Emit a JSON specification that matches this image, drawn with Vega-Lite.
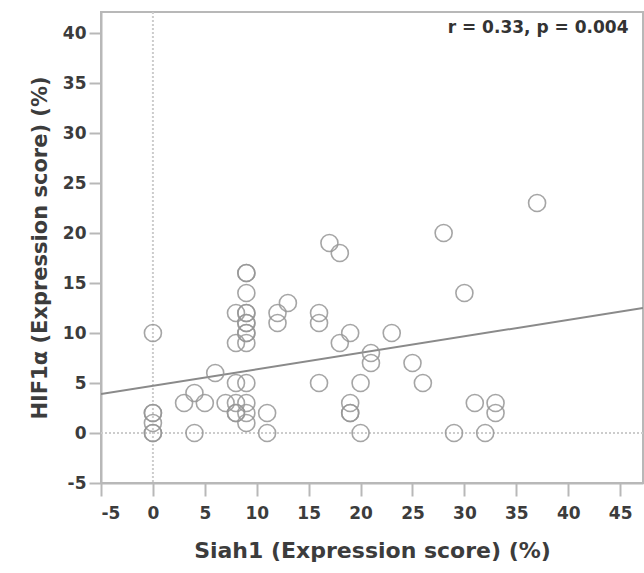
{
  "$schema": "https://vega.github.io/schema/vega-lite/v6.json",
  "autosize": "none",
  "padding": {"left": 101, "top": 12, "right": 1, "bottom": 90},
  "width": 542,
  "height": 471,
  "background": "white",
  "config": {
    "view": {"stroke": "#b8b8b8", "strokeWidth": 2},
    "font": "DejaVu Sans"
  },
  "datasets": {
    "points": [
      {"siah1": 0, "hif1a": 10}, {"siah1": 0, "hif1a": 2}, {"siah1": 0, "hif1a": 1}, {"siah1": 0, "hif1a": 0}, {"siah1": 0, "hif1a": 0}, {"siah1": 0, "hif1a": 2},
      {"siah1": 3, "hif1a": 3}, {"siah1": 4, "hif1a": 4}, {"siah1": 4, "hif1a": 0}, {"siah1": 5, "hif1a": 3}, {"siah1": 6, "hif1a": 6},
      {"siah1": 7, "hif1a": 3}, {"siah1": 8, "hif1a": 12}, {"siah1": 8, "hif1a": 9}, {"siah1": 8, "hif1a": 5}, {"siah1": 8, "hif1a": 3}, {"siah1": 8, "hif1a": 2}, {"siah1": 8, "hif1a": 2},
      {"siah1": 9, "hif1a": 16}, {"siah1": 9, "hif1a": 16}, {"siah1": 9, "hif1a": 14}, {"siah1": 9, "hif1a": 12}, {"siah1": 9, "hif1a": 12}, {"siah1": 9, "hif1a": 11}, {"siah1": 9, "hif1a": 10}, {"siah1": 9, "hif1a": 9}, {"siah1": 9, "hif1a": 5}, {"siah1": 9, "hif1a": 3}, {"siah1": 9, "hif1a": 2}, {"siah1": 9, "hif1a": 1}, {"siah1": 9, "hif1a": 11}, {"siah1": 9, "hif1a": 10},
      {"siah1": 11, "hif1a": 2}, {"siah1": 11, "hif1a": 0},
      {"siah1": 12, "hif1a": 12}, {"siah1": 12, "hif1a": 11}, {"siah1": 13, "hif1a": 13},
      {"siah1": 16, "hif1a": 12}, {"siah1": 16, "hif1a": 11}, {"siah1": 16, "hif1a": 5},
      {"siah1": 17, "hif1a": 19}, {"siah1": 18, "hif1a": 18}, {"siah1": 18, "hif1a": 9}, {"siah1": 19, "hif1a": 10},
      {"siah1": 19, "hif1a": 3}, {"siah1": 19, "hif1a": 2}, {"siah1": 19, "hif1a": 2}, {"siah1": 20, "hif1a": 5}, {"siah1": 20, "hif1a": 0},
      {"siah1": 21, "hif1a": 8}, {"siah1": 21, "hif1a": 7}, {"siah1": 23, "hif1a": 10},
      {"siah1": 25, "hif1a": 7}, {"siah1": 26, "hif1a": 5}, {"siah1": 28, "hif1a": 20}, {"siah1": 29, "hif1a": 0}, {"siah1": 30, "hif1a": 14}, {"siah1": 31, "hif1a": 3}, {"siah1": 32, "hif1a": 0}, {"siah1": 33, "hif1a": 3}, {"siah1": 33, "hif1a": 2}, {"siah1": 37, "hif1a": 23}
    ],
    "fit": [
      {"siah1": -5, "hif1a": 3.9},
      {"siah1": 47.2, "hif1a": 12.5}
    ],
    "refx": [{"siah1": 0}],
    "refy": [{"hif1a": 0}],
    "label": [{"siah1": 45.8, "hif1a": 40.5, "text": "r = 0.33, p = 0.004"}]
  },
  "layer": [
    {
      "data": {"name": "refx"},
      "mark": {"type": "rule", "color": "#cccccc", "strokeWidth": 2, "strokeDash": [2, 2]},
      "encoding": {
        "x": {"field": "siah1", "type": "quantitative", "scale": {"domain": [-5, 47.2], "nice": false, "zero": false},
          "axis": {
            "title": "Siah1 (Expression score) (%)",
            "values": [-5, 0, 5, 10, 15, 20, 25, 30, 35, 40, 45],
            "labelExpr": "replace(datum.label, '−', '-')",
            "grid": false,
            "domainColor": "#b8b8b8", "domainWidth": 2,
            "tickColor": "#b8b8b8", "tickWidth": 2, "tickSize": 13,
            "labelFont": "DejaVu Sans", "labelFontWeight": "bold", "labelFontSize": 17, "labelColor": "#3c3c3c", "labelPadding": 9,
            "titleFont": "DejaVu Sans", "titleFontWeight": "bold", "titleFontSize": 22, "titleColor": "#3c3c3c", "titlePadding": 19
          }
        }
      }
    },
    {
      "data": {"name": "refy"},
      "mark": {"type": "rule", "color": "#cccccc", "strokeWidth": 2, "strokeDash": [2, 2]},
      "encoding": {
        "y": {"field": "hif1a", "type": "quantitative", "scale": {"domain": [-5, 42.1], "nice": false, "zero": false},
          "axis": {
            "title": "HIF1α (Expression score) (%)",
            "values": [-5, 0, 5, 10, 15, 20, 25, 30, 35, 40],
            "labelExpr": "replace(datum.label, '−', '-')",
            "grid": false,
            "domainColor": "#b8b8b8", "domainWidth": 2,
            "tickColor": "#b8b8b8", "tickWidth": 2, "tickSize": 12,
            "labelFont": "DejaVu Sans", "labelFontWeight": "bold", "labelFontSize": 17, "labelColor": "#3c3c3c", "labelPadding": 3,
            "titleFont": "DejaVu Sans", "titleFontWeight": "bold", "titleFontSize": 21, "titleColor": "#3c3c3c", "titlePadding": 12
          }
        }
      }
    },
    {
      "data": {"name": "fit"},
      "mark": {"type": "line", "color": "#8a8a8a", "strokeWidth": 2, "clip": true},
      "encoding": {
        "x": {"field": "siah1", "type": "quantitative"},
        "y": {"field": "hif1a", "type": "quantitative"}
      }
    },
    {
      "data": {"name": "points"},
      "mark": {"type": "point", "shape": "circle", "filled": false, "size": 290, "stroke": "#969696", "strokeWidth": 1.6, "opacity": 0.85},
      "encoding": {
        "x": {"field": "siah1", "type": "quantitative"},
        "y": {"field": "hif1a", "type": "quantitative"}
      }
    },
    {
      "data": {"name": "label"},
      "mark": {"type": "text", "align": "right", "baseline": "middle", "font": "DejaVu Sans", "fontWeight": "bold", "fontSize": 17, "color": "#333333"},
      "encoding": {
        "x": {"field": "siah1", "type": "quantitative"},
        "y": {"field": "hif1a", "type": "quantitative"},
        "text": {"field": "text"}
      }
    }
  ]
}
